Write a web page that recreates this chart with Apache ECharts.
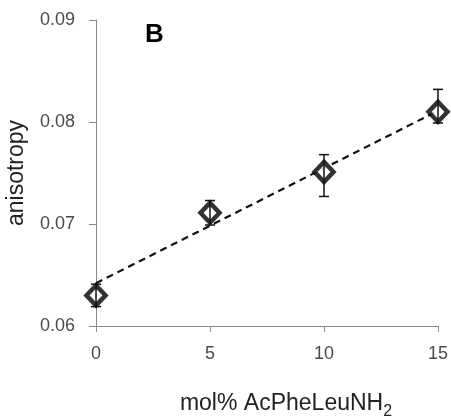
<!DOCTYPE html>
<html>
<head>
<meta charset="utf-8">
<script src="https://cdn.jsdelivr.net/npm/echarts@6/dist/echarts.min.js"></script>
<style>
html,body{margin:0;padding:0;background:#fff;}
#chart{width:451px;height:416px;}
</style>
</head>
<body>
<div id="chart"></div>
<script>
// Data
var molPercent = [0, 5, 10, 15];
var anisotropy = [0.0630, 0.0711, 0.0751, 0.0810];
var errLow = [0.0619, 0.0699, 0.0727, 0.0799];
var errHigh = [0.0641, 0.0723, 0.0768, 0.0832];
var trendX = [0, 15];
var trendY = [0.0642, 0.0811];
var yTicks = [0.06, 0.07, 0.08, 0.09];
var xTicks = [0, 5, 10, 15];

var chart = echarts.init(document.getElementById('chart'), null, {renderer: 'canvas'});

var points = molPercent.map(function (x, i) { return [x, anisotropy[i]]; });
var errData = molPercent.map(function (x, i) { return [x, errLow[i], errHigh[i]]; });
var trendData = trendX.map(function (x, i) { return [x, trendY[i]]; });

var axisColor = '#8a8a8a';
var labelColor = '#4a4a4a';
var fontFam = '"Liberation Sans", Arial, sans-serif';

var option = {
  backgroundColor: '#ffffff',
  animation: false,
  title: {
    text: 'B',
    left: 145,
    top: 22,
    padding: 0,
    textStyle: {fontSize: 26, fontWeight: 'bold', color: '#000', fontFamily: fontFam}
  },
  grid: {left: 96, right: 13, top: 20, bottom: 90, containLabel: false, outerBoundsMode: 'none'},
  xAxis: {
    type: 'value',
    min: xTicks[0],
    max: xTicks[xTicks.length - 1],
    interval: 5,
    name: '{a|mol% AcPheLeuNH}{s|2}',
    nameLocation: 'middle',
    nameGap: 66,
    nameTextStyle: {
      padding: [0, 0, 0, 38],
      rich: {
        a: {fontSize: 23, lineHeight: 23, verticalAlign: 'top', color: '#222', fontFamily: fontFam},
        s: {fontSize: 16, lineHeight: 16, padding: [12, 0, 0, 0], verticalAlign: 'top', color: '#222', fontFamily: fontFam}
      }
    },
    axisLine: {show: true, onZero: false, lineStyle: {color: axisColor, width: 1}},
    axisTick: {show: true, length: 6, lineStyle: {color: axisColor}},
    axisLabel: {fontSize: 18, color: labelColor, margin: 19, fontFamily: fontFam},
    splitLine: {show: false}
  },
  yAxis: {
    type: 'value',
    min: yTicks[0],
    max: yTicks[yTicks.length - 1],
    interval: 0.01,
    name: 'anisotropy',
    nameLocation: 'middle',
    nameGap: 68,
    nameRotate: 90,
    nameTextStyle: {fontSize: 23, color: '#222', fontFamily: fontFam},
    axisLine: {show: true, onZero: false, lineStyle: {color: axisColor, width: 1}},
    axisTick: {show: true, length: 7, lineStyle: {color: axisColor}},
    axisLabel: {
      fontSize: 18, color: labelColor, margin: 21, fontFamily: fontFam,
      formatter: function (v) { return v.toFixed(2); }
    },
    splitLine: {show: false}
  },
  series: [
    {
      type: 'line',
      data: trendData,
      symbol: 'none',
      z: 1,
      lineStyle: {color: '#111111', width: 2.2, type: [7, 5]}
    },
    {
      type: 'scatter',
      data: points,
      symbol: 'diamond',
      symbolSize: [19, 20],
      z: 2,
      itemStyle: {color: '#ffffff', borderColor: '#000000', borderWidth: 4.5}
    },
    {
      type: 'custom',
      data: errData,
      z: 3,
      renderItem: function (params, api) {
        var x = api.value(0);
        var lo = api.coord([x, api.value(1)]);
        var hi = api.coord([x, api.value(2)]);
        var cap = 5;
        var style = {stroke: '#111111', lineWidth: 1.5, fill: null};
        return {
          type: 'group',
          children: [
            {type: 'line', shape: {x1: lo[0], y1: lo[1], x2: hi[0], y2: hi[1]}, style: style},
            {type: 'line', shape: {x1: lo[0] - cap, y1: lo[1], x2: lo[0] + cap, y2: lo[1]}, style: style},
            {type: 'line', shape: {x1: hi[0] - cap, y1: hi[1], x2: hi[0] + cap, y2: hi[1]}, style: style}
          ]
        };
      }
    }
  ]
};
chart.setOption(option);
</script>
</body>
</html>
